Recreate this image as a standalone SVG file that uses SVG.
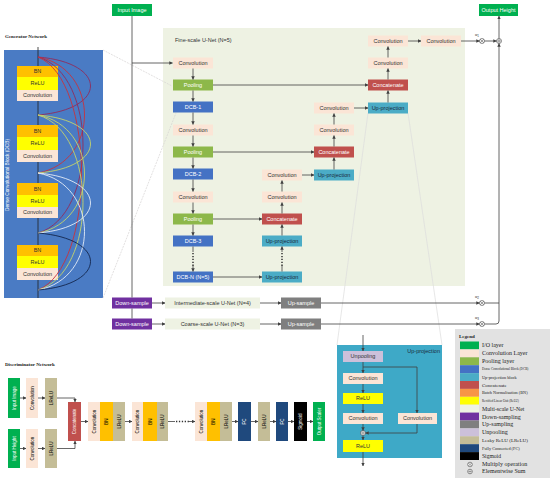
<svg xmlns="http://www.w3.org/2000/svg" width="550" height="481" viewBox="0 0 550 481">
<defs>
<marker id="ah" markerWidth="3.5" markerHeight="3.5" refX="3.2" refY="1.75" orient="auto" markerUnits="userSpaceOnUse"><path d="M0,0 L3.5,1.75 L0,3.5 z" fill="#404040"/></marker>
<style>
.t{font-family:"Liberation Sans",Arial,sans-serif;font-size:5.5px;text-anchor:middle;fill:#333}
.w{fill:#fff}
.d{fill:#1a2a40}
.v{font-family:"Liberation Sans",Arial,sans-serif;font-size:4.5px;text-anchor:middle}
.h{font-family:"Liberation Serif","Times New Roman",serif;font-weight:bold;font-size:5px;fill:#222}
.lg{font-family:"Liberation Serif","Times New Roman",serif;fill:#222}
.io{fill:#00B050}.cv{fill:#FBE5D6}.pl{fill:#8DB84A}.dcb{fill:#4472C4}.up{fill:#4BACC6}.cc{fill:#C0504D}
.bn{fill:#FFC000}.re{fill:#FFFF00}.ds{fill:#7030A0}.us{fill:#7F7F7F}.un{fill:#CCC0DA}.lr{fill:#C4BD97}.fc{fill:#1F497D}.sg{fill:#000}.ms{fill:#EEF2E3}
.ln{stroke:#404040;stroke-width:0.8;fill:none}
.dot{stroke:#333;stroke-width:1.5;stroke-dasharray:1.3 1.6;fill:none}
.zm{stroke:#d6d2d2;stroke-width:0.7;fill:none;stroke-dasharray:2 1}
.cr{fill:#fff;stroke:#404040;stroke-width:0.6}
</style>
</defs>
<rect width="550" height="481" fill="#fff"/>

<!-- background panels -->
<rect x="4" y="50" width="99" height="248" fill="#4A7BC4"/>
<rect x="163" y="28" width="302" height="258" class="ms"/>
<rect x="337" y="345" width="105" height="113" fill="#3EA9C7"/>
<rect x="455" y="329" width="95" height="149" fill="#E2E2E2"/>

<text x="5" y="37.5" class="h">Generator Network</text>
<text x="5" y="365.5" class="h">Discriminator Network</text>
<text x="175" y="42" class="t" style="text-anchor:start">Fine-scale U-Net (N=5)</text>
<text x="8.5" y="175" class="v w" transform="rotate(-90 8.5 175)" style="font-size:4.8px">Dense Convolutional Block (DCB)</text>

<!-- zoom guide lines -->
<g id="zoom-lines">
<path class="zm" d="M103,50 L172,86"/>
<path class="zm" d="M103,298 L176,113"/>
<path class="zm" d="M368,113 L337,345" style="stroke-dasharray:none;stroke:#dcdcdc"/>
<path class="zm" d="M408,113 L442,345" style="stroke-dasharray:none;stroke:#dcdcdc"/>
</g>

<!-- IO -->
<g id="input-image"><rect x="112" y="4" width="40" height="12" class="io"/><text x="132" y="11.8" class="t w">Input Image</text></g>
<g id="output-height"><rect x="479" y="4" width="39" height="12" class="io"/><text x="498.5" y="11.8" class="t w">Output Height</text></g>

<!-- DCB internal blocks -->
<g id="dcb-block1"><rect x="17" y="66" width="41" height="11" class="bn"/><text x="37.5" y="73.4" class="t">BN</text><rect x="17" y="77" width="41" height="13" class="re"/><text x="37.5" y="85.4" class="t">ReLU</text><rect x="17" y="90" width="41" height="11" class="cv"/><text x="37.5" y="97.4" class="t">Convolution</text></g>
<g id="dcb-block2"><rect x="17" y="125" width="41" height="12" class="bn"/><text x="37.5" y="132.9" class="t">BN</text><rect x="17" y="137" width="41" height="13" class="re"/><text x="37.5" y="145.4" class="t">ReLU</text><rect x="17" y="150" width="41" height="12" class="cv"/><text x="37.5" y="157.9" class="t">Convolution</text></g>
<g id="dcb-block3"><rect x="17" y="183" width="41" height="12" class="bn"/><text x="37.5" y="190.9" class="t">BN</text><rect x="17" y="195" width="41" height="12" class="re"/><text x="37.5" y="202.9" class="t">ReLU</text><rect x="17" y="207" width="41" height="11" class="cv"/><text x="37.5" y="214.4" class="t">Convolution</text></g>
<g id="dcb-block4"><rect x="17" y="245" width="41" height="11" class="bn"/><text x="37.5" y="252.4" class="t">BN</text><rect x="17" y="256" width="41" height="12" class="re"/><text x="37.5" y="263.9" class="t">ReLU</text><rect x="17" y="268" width="41" height="12" class="cv"/><text x="37.5" y="275.9" class="t">Convolution</text></g>

<!-- Fine-scale column 1 -->
<g id="fs-conv1"><rect x="173" y="57.5" width="40" height="11" class="cv"/><text x="193" y="64.9" class="t">Convolution</text></g>
<g id="fs-pool1"><rect x="173" y="79.5" width="40" height="11" class="pl"/><text x="193" y="86.9" class="t w">Pooling</text></g>
<g id="fs-dcb1"><rect x="173" y="101.5" width="40" height="11" class="dcb"/><text x="193" y="108.9" class="t w">DCB-1</text></g>
<g id="fs-conv2"><rect x="173" y="124.5" width="40" height="11" class="cv"/><text x="193" y="131.9" class="t">Convolution</text></g>
<g id="fs-pool2"><rect x="173" y="146.5" width="40" height="11" class="pl"/><text x="193" y="153.9" class="t w">Pooling</text></g>
<g id="fs-dcb2"><rect x="173" y="168.5" width="40" height="11" class="dcb"/><text x="193" y="175.9" class="t w">DCB-2</text></g>
<g id="fs-conv3"><rect x="173" y="191.5" width="40" height="11" class="cv"/><text x="193" y="198.9" class="t">Convolution</text></g>
<g id="fs-pool3"><rect x="173" y="213.5" width="40" height="11" class="pl"/><text x="193" y="220.9" class="t w">Pooling</text></g>
<g id="fs-dcb3"><rect x="173" y="235.5" width="40" height="11" class="dcb"/><text x="193" y="242.9" class="t w">DCB-3</text></g>
<g id="fs-dcbn"><rect x="173" y="271.5" width="40" height="11" class="dcb"/><text x="193" y="278.9" class="t w">DCB-N (N=5)</text></g>
<!-- column 2 -->
<g id="fs-c2-conv1"><rect x="262" y="169.5" width="40" height="11" class="cv"/><text x="282" y="176.9" class="t">Convolution</text></g>
<g id="fs-c2-conv2"><rect x="262" y="191.5" width="40" height="11" class="cv"/><text x="282" y="198.9" class="t">Convolution</text></g>
<g id="fs-c2-concat"><rect x="262" y="213.5" width="40" height="11" class="cc"/><text x="282" y="220.9" class="t w">Concatenate</text></g>
<g id="fs-c2-up1"><rect x="262" y="235.5" width="40" height="11" class="up"/><text x="282" y="242.9" class="t d">Up-projection</text></g>
<g id="fs-c2-up2"><rect x="262" y="271.5" width="40" height="11" class="up"/><text x="282" y="278.9" class="t d">Up-projection</text></g>
<!-- column 3 -->
<g id="fs-c3-conv1"><rect x="314" y="102.5" width="40" height="11" class="cv"/><text x="334" y="109.9" class="t">Convolution</text></g>
<g id="fs-c3-conv2"><rect x="314" y="124.5" width="40" height="11" class="cv"/><text x="334" y="131.9" class="t">Convolution</text></g>
<g id="fs-c3-concat"><rect x="314" y="146.5" width="40" height="11" class="cc"/><text x="334" y="153.9" class="t w">Concatenate</text></g>
<g id="fs-c3-up"><rect x="314" y="169.5" width="40" height="11" class="up"/><text x="334" y="176.9" class="t d">Up-projection</text></g>
<!-- column 4 -->
<g id="fs-c4-conv1"><rect x="368" y="35.5" width="40" height="11" class="cv"/><text x="388" y="42.9" class="t">Convolution</text></g>
<g id="fs-c4-conv2"><rect x="368" y="57.5" width="40" height="11" class="cv"/><text x="388" y="64.9" class="t">Convolution</text></g>
<g id="fs-c4-concat"><rect x="368" y="79.5" width="40" height="11" class="cc"/><text x="388" y="86.9" class="t w">Concatenate</text></g>
<g id="fs-c4-up"><rect x="368" y="102.5" width="40" height="11" class="up"/><text x="388" y="109.9" class="t d">Up-projection</text></g>
<g id="fs-c5-conv"><rect x="421" y="35.5" width="40" height="11" class="cv"/><text x="441" y="42.9" class="t">Convolution</text></g>

<!-- multi-scale rows -->
<g id="downsample1"><rect x="112" y="297.5" width="40" height="11" class="ds"/><text x="132" y="304.9" class="t w">Down-sample</text></g>
<g id="downsample2"><rect x="112" y="318.5" width="40" height="11" class="ds"/><text x="132" y="325.9" class="t w">Down-sample</text></g>
<g id="intermediate-unet"><rect x="165" y="297.5" width="95" height="11" class="ms"/><text x="212.5" y="304.9" class="t">Intermediate-scale U-Net (N=4)</text></g>
<g id="coarse-unet"><rect x="165" y="318.5" width="95" height="11" class="ms"/><text x="212.5" y="325.9" class="t">Coarse-scale U-Net (N=3)</text></g>
<g id="upsample1"><rect x="281" y="297.5" width="40" height="11" class="us"/><text x="301" y="304.9" class="t w">Up-sample</text></g>
<g id="upsample2"><rect x="281" y="318.5" width="40" height="11" class="us"/><text x="301" y="325.9" class="t w">Up-sample</text></g>

<!-- operators -->
<g id="mul1"><circle cx="482" cy="41" r="2.5" class="cr"/><path d="M480.3,39.3 L483.7,42.7 M483.7,39.3 L480.3,42.7" class="ln" style="stroke-width:0.5"/><text x="477" y="36" class="t" style="font-size:4px">α<tspan font-size="3" dy="1">1</tspan></text></g>
<g id="mul2"><circle cx="482" cy="303" r="2.5" class="cr"/><path d="M480.3,301.3 L483.7,304.7 M483.7,301.3 L480.3,304.7" class="ln" style="stroke-width:0.5"/><text x="477" y="298" class="t" style="font-size:4px">α<tspan font-size="3" dy="1">2</tspan></text></g>
<g id="mul3"><circle cx="482" cy="324" r="2.5" class="cr"/><path d="M480.3,322.3 L483.7,325.7 M483.7,322.3 L480.3,325.7" class="ln" style="stroke-width:0.5"/><text x="477" y="319" class="t" style="font-size:4px">α<tspan font-size="3" dy="1">3</tspan></text></g>
<g id="sum-out"><circle cx="499" cy="41" r="2.5" class="cr"/><path d="M497,41 H501 M499,39 V43" class="ln" style="stroke-width:0.5"/></g>

<!-- Up-projection detail -->
<text x="440" y="353" class="t d" style="text-anchor:end">Up-projection</text>
<g id="up-unpool"><rect x="343" y="351" width="40" height="11" class="un"/><text x="363" y="358.4" class="t">Unpooling</text></g>
<g id="up-conv1"><rect x="343" y="373" width="40" height="11" class="cv"/><text x="363" y="380.4" class="t">Convolution</text></g>
<g id="up-relu1"><rect x="343" y="393" width="40" height="11" class="re"/><text x="363" y="400.4" class="t">ReLU</text></g>
<g id="up-conv2"><rect x="343" y="413" width="40" height="11" class="cv"/><text x="363" y="420.4" class="t">Convolution</text></g>
<g id="up-conv3"><rect x="398" y="413" width="39" height="11" class="cv"/><text x="417.5" y="420.4" class="t">Convolution</text></g>
<g id="up-sum"><circle cx="363" cy="433" r="2.5" class="cr"/><path d="M361,433 H365 M363,431 V435" class="ln" style="stroke-width:0.5"/></g>
<g id="up-relu2"><rect x="343" y="440" width="40" height="12" class="re"/><text x="363" y="447.9" class="t">ReLU</text></g>

<!-- Discriminator -->
<g id="d-input-image"><rect x="8" y="378" width="12" height="40" class="io"/><text x="14" y="398" class="v w" transform="rotate(-90 14 398)" dy="1.6">Input Image</text></g>
<g id="d-conv1"><rect x="26" y="378" width="12" height="40" class="cv"/><text x="32" y="398" class="v" transform="rotate(-90 32 398)" dy="1.6">Convolution</text></g>
<g id="d-lrelu1"><rect x="45" y="378" width="12" height="40" class="lr"/><text x="51" y="398" class="v" transform="rotate(-90 51 398)" dy="1.6">LReLU</text></g>
<g id="d-input-height"><rect x="8" y="429" width="12" height="39" class="io"/><text x="14" y="448.5" class="v w" transform="rotate(-90 14 448.5)" dy="1.6">Input Height</text></g>
<g id="d-conv2"><rect x="26" y="429" width="12" height="39" class="cv"/><text x="32" y="448.5" class="v" transform="rotate(-90 32 448.5)" dy="1.6">Convolution</text></g>
<g id="d-lrelu2"><rect x="45" y="429" width="12" height="39" class="lr"/><text x="51" y="448.5" class="v" transform="rotate(-90 51 448.5)" dy="1.6">LReLU</text></g>
<g id="d-concat"><rect x="68" y="402" width="13" height="39" class="cc"/><text x="74.5" y="421.5" class="v w" transform="rotate(-90 74.5 421.5)" dy="1.6">Concatenate</text></g>
<g id="d-conv3"><rect x="88" y="402" width="12" height="39" class="cv"/><text x="94" y="421.5" class="v" transform="rotate(-90 94 421.5)" dy="1.6">Convolution</text></g>
<g id="d-bn1"><rect x="100" y="402" width="13" height="39" class="bn"/><text x="106.5" y="421.5" class="v" transform="rotate(-90 106.5 421.5)" dy="1.6">BN</text></g>
<g id="d-lrelu3"><rect x="113" y="402" width="12" height="39" class="lr"/><text x="119" y="421.5" class="v" transform="rotate(-90 119 421.5)" dy="1.6">LReLU</text></g>
<g id="d-conv4"><rect x="132" y="402" width="11" height="39" class="cv"/><text x="137.5" y="421.5" class="v" transform="rotate(-90 137.5 421.5)" dy="1.6">Convolution</text></g>
<g id="d-bn2"><rect x="143" y="402" width="14" height="39" class="bn"/><text x="150" y="421.5" class="v" transform="rotate(-90 150 421.5)" dy="1.6">BN</text></g>
<g id="d-lrelu4"><rect x="157" y="402" width="11" height="39" class="lr"/><text x="162.5" y="421.5" class="v" transform="rotate(-90 162.5 421.5)" dy="1.6">LReLU</text></g>
<g id="d-conv5"><rect x="195" y="402" width="12" height="39" class="cv"/><text x="201" y="421.5" class="v" transform="rotate(-90 201 421.5)" dy="1.6">Convolution</text></g>
<g id="d-bn3"><rect x="207" y="402" width="13" height="39" class="bn"/><text x="213.5" y="421.5" class="v" transform="rotate(-90 213.5 421.5)" dy="1.6">BN</text></g>
<g id="d-lrelu5"><rect x="220" y="402" width="12" height="39" class="lr"/><text x="226" y="421.5" class="v" transform="rotate(-90 226 421.5)" dy="1.6">LReLU</text></g>
<g id="d-fc1"><rect x="238" y="402" width="13" height="39" class="fc"/><text x="244.5" y="421.5" class="v w" transform="rotate(-90 244.5 421.5)" dy="1.6">FC</text></g>
<g id="d-lrelu6"><rect x="258" y="402" width="12" height="39" class="lr"/><text x="264" y="421.5" class="v" transform="rotate(-90 264 421.5)" dy="1.6">LReLU</text></g>
<g id="d-fc2"><rect x="276" y="402" width="12" height="39" class="fc"/><text x="282" y="421.5" class="v w" transform="rotate(-90 282 421.5)" dy="1.6">FC</text></g>
<g id="d-sigmoid"><rect x="294" y="402" width="13" height="39" class="sg"/><text x="300.5" y="421.5" class="v w" transform="rotate(-90 300.5 421.5)" dy="1.6">Sigmoid</text></g>
<g id="d-output"><rect x="313" y="402" width="12" height="39" class="io"/><text x="319" y="421.5" class="v w" transform="rotate(-90 319 421.5)" dy="1.6">Output Scaler</text></g>

<!-- Legend -->
<g id="legend">
<text x="459" y="338" class="h">Legend</text>
<rect x="460" y="341.5" width="19" height="7.9" class="io"/>
<rect x="460" y="349.4" width="19" height="7.9" class="cv"/>
<rect x="460" y="357.3" width="19" height="7.9" class="pl"/>
<rect x="460" y="365.2" width="19" height="7.9" class="dcb"/>
<rect x="460" y="373.1" width="19" height="7.9" class="up"/>
<rect x="460" y="381" width="19" height="7.9" class="cc"/>
<rect x="460" y="388.9" width="19" height="7.9" fill="#F79646"/>
<rect x="460" y="396.8" width="19" height="7.9" class="re"/>
<rect x="460" y="404.7" width="19" height="7.9" class="ms"/>
<rect x="460" y="412.6" width="19" height="7.9" class="ds"/>
<rect x="460" y="420.5" width="19" height="7.9" class="us"/>
<rect x="460" y="428.4" width="19" height="7.9" class="un"/>
<rect x="460" y="436.3" width="19" height="7.9" class="lr"/>
<rect x="460" y="444.2" width="19" height="7.9" class="fc"/>
<rect x="460" y="452.1" width="19" height="7.9" class="sg"/>
<circle cx="470" cy="464.5" r="2.3" class="cr"/><path d="M468.5,463 L471.5,466 M471.5,463 L468.5,466" class="ln" style="stroke-width:0.45"/>
<circle cx="470" cy="471.5" r="2.3" class="cr"/><path d="M468.2,471.5 H471.8 M470,469.7 V473.3" class="ln" style="stroke-width:0.45"/>
<text x="482" y="347.4" class="lg" font-size="6">I/O layer</text>
<text x="482" y="355.3" class="lg" font-size="6">Convolution Layer</text>
<text x="482" y="363.2" class="lg" font-size="6">Pooling layer</text>
<text x="482" y="370.3" class="lg" font-size="3.3">Dense Convolutional Block (DCB)</text>
<text x="482" y="378.6" class="lg" font-size="4.3">Up-projection block</text>
<text x="482" y="386.6" class="lg" font-size="5">Concatenate</text>
<text x="482" y="394.3" class="lg" font-size="4.3">Batch Normalisation (BN)</text>
<text x="482" y="401.8" class="lg" font-size="3.1">Rectified Linear Unit (ReLU)</text>
<text x="482" y="410.6" class="lg" font-size="5.8">Multi-scale U-Net</text>
<text x="482" y="418.5" class="lg" font-size="6">Down-sampling</text>
<text x="482" y="426.4" class="lg" font-size="6">Up-sampling</text>
<text x="482" y="434.3" class="lg" font-size="6">Unpooling</text>
<text x="482" y="441.9" class="lg" font-size="5">Leaky ReLU (LReLU)</text>
<text x="482" y="449.7" class="lg" font-size="4.3">Fully Connected (FC)</text>
<text x="482" y="457.9" class="lg" font-size="5.6">Sigmoid</text>
<text x="482" y="465.9" class="lg" font-size="6">Multiply operation</text>
<text x="482" y="473" class="lg" font-size="6">Elementwise Sum</text>
</g>

<!-- Connectors -->
<g id="connectors">
<!-- DCB spine -->
<path class="ln" d="M38,47 V66 M38,101 V125 M38,162 V183 M38,218 V245 M38,280 V298" style="stroke:#222"/>
<!-- dense connections -->
<g fill="none" stroke-width="0.9">
<path stroke="#8E2C5C" d="M38,57 C108,62.8 108,109.2 38,115"/>
<path stroke="#C8323C" d="M38,57 C100,68.6 100,161.4 38,173"/>
<path stroke="#8E2C5C" d="M38,57 C98,74.6 98,215.4 38,233"/>
<path stroke="#C8323C" d="M38,57 C96,80.3 96,266.7 38,290"/>
<path stroke="#C5D46A" d="M38,115 C108,120.8 108,167.2 38,173"/>
<path stroke="#C5D46A" d="M38,115 C100,126.8 100,221.2 38,233"/>
<path stroke="#C5D46A" d="M38,115 C98,132.5 98,272.5 38,290"/>
<path stroke="#E4ECF7" d="M38,173 C108,179 108,227 38,233"/>
<path stroke="#E4ECF7" d="M38,173 C100,184.7 100,278.3 38,290"/>
<path stroke="#13264D" d="M38,233 C108,238.7 108,284.3 38,290"/>
</g>
<!-- input -->
<path class="ln" d="M132,16 V297.5 M132,308.5 V318.5"/>
<path class="ln" d="M132,63 H172.5" marker-end="url(#ah)"/>
<!-- column 1 down path -->
<path class="ln" d="M193,68.5 V79.5" marker-end="url(#ah)"/>
<path class="ln" d="M193,90.5 V101.5" marker-end="url(#ah)"/>
<path class="ln" d="M193,112.5 V124.5" marker-end="url(#ah)"/>
<path class="ln" d="M193,135.5 V146.5" marker-end="url(#ah)"/>
<path class="ln" d="M193,157.5 V168.5" marker-end="url(#ah)"/>
<path class="ln" d="M193,179.5 V191.5" marker-end="url(#ah)"/>
<path class="ln" d="M193,202.5 V213.5" marker-end="url(#ah)"/>
<path class="ln" d="M193,224.5 V235.5" marker-end="url(#ah)"/>
<path class="ln" d="M193,246.5 V252"/>
<path class="dot" d="M193,253 V266"/>
<path class="ln" d="M193,266 V271.5" marker-end="url(#ah)"/>
<path class="ln" d="M213,277 H262" marker-end="url(#ah)"/>
<!-- column 2 up path -->
<path class="ln" d="M282,271.5 V266"/>
<path class="dot" d="M282,253 V266"/>
<path class="ln" d="M282,252 V246.5" marker-end="url(#ah)"/>
<path class="ln" d="M282,235.5 V224.5" marker-end="url(#ah)"/>
<path class="ln" d="M213,219 H262" marker-end="url(#ah)"/>
<path class="ln" d="M282,213.5 V202.5" marker-end="url(#ah)"/>
<path class="ln" d="M282,191.5 V180.5" marker-end="url(#ah)"/>
<path class="ln" d="M302,175 H314" marker-end="url(#ah)"/>
<!-- column 3 -->
<path class="ln" d="M334,169.5 V157.5" marker-end="url(#ah)"/>
<path class="ln" d="M213,152 H314" marker-end="url(#ah)"/>
<path class="ln" d="M334,146.5 V135.5" marker-end="url(#ah)"/>
<path class="ln" d="M334,124.5 V113.5" marker-end="url(#ah)"/>
<path class="ln" d="M354,108 H368" marker-end="url(#ah)"/>
<!-- column 4 -->
<path class="ln" d="M388,102.5 V90.5" marker-end="url(#ah)"/>
<path class="ln" d="M213,85 H368" marker-end="url(#ah)"/>
<path class="ln" d="M388,79.5 V68.5" marker-end="url(#ah)"/>
<path class="ln" d="M388,57.5 V46.5" marker-end="url(#ah)"/>
<path class="ln" d="M408,41 H421" marker-end="url(#ah)"/>
<path class="ln" d="M461,41 H479.5" marker-end="url(#ah)"/>
<path class="ln" d="M484.5,41 H496.5" marker-end="url(#ah)"/>
<path class="ln" d="M499,38.5 V16" marker-end="url(#ah)"/>
<!-- multi-scale rows -->
<path class="ln" d="M152,303 H165" marker-end="url(#ah)"/>
<path class="ln" d="M152,324 H165" marker-end="url(#ah)"/>
<path class="ln" d="M260,303 H281" marker-end="url(#ah)"/>
<path class="ln" d="M260,324 H281" marker-end="url(#ah)"/>
<path class="ln" d="M321,303 H479.5" marker-end="url(#ah)"/>
<path class="ln" d="M321,324 H479.5" marker-end="url(#ah)"/>
<path class="ln" d="M484.5,303 H499"/>
<path class="ln" d="M484.5,324 H496 Q499,324 499,321 V43.5" marker-end="url(#ah)"/>
<!-- up-projection detail -->
<path class="ln" d="M363,335 V351" marker-end="url(#ah)"/>
<path class="ln" d="M363,362 V373" marker-end="url(#ah)"/>
<path class="ln" d="M363,384 V393" marker-end="url(#ah)"/>
<path class="ln" d="M363,404 V413" marker-end="url(#ah)"/>
<path class="ln" d="M363,424 V430.5" marker-end="url(#ah)"/>
<path class="ln" d="M363,435.5 V440" marker-end="url(#ah)"/>
<path class="ln" d="M363,452 V466" marker-end="url(#ah)"/>
<path class="ln" d="M363,367 H417 V413" marker-end="url(#ah)"/>
<path class="ln" d="M417,424 V433 H365.5" marker-end="url(#ah)"/>
<!-- discriminator -->
<path class="ln" d="M20,398 H26" marker-end="url(#ah)"/>
<path class="ln" d="M38,398 H45" marker-end="url(#ah)"/>
<path class="ln" d="M57,398 H75 V402" marker-end="url(#ah)"/>
<path class="ln" d="M20,448.5 H26" marker-end="url(#ah)"/>
<path class="ln" d="M38,448.5 H45" marker-end="url(#ah)"/>
<path class="ln" d="M57,448.5 H75 V441" marker-end="url(#ah)"/>
<path class="ln" d="M81,421.5 H88" marker-end="url(#ah)"/>
<path class="ln" d="M125,421.5 H132" marker-end="url(#ah)"/>
<path class="ln" d="M168,421.5 H175"/>
<path class="dot" d="M176,421.5 H189"/>
<path class="ln" d="M189,421.5 H195" marker-end="url(#ah)"/>
<path class="ln" d="M232,421.5 H238" marker-end="url(#ah)"/>
<path class="ln" d="M251,421.5 H258" marker-end="url(#ah)"/>
<path class="ln" d="M270,421.5 H276" marker-end="url(#ah)"/>
<path class="ln" d="M288,421.5 H294" marker-end="url(#ah)"/>
<path class="ln" d="M307,421.5 H313" marker-end="url(#ah)"/>
</g>
</svg>
